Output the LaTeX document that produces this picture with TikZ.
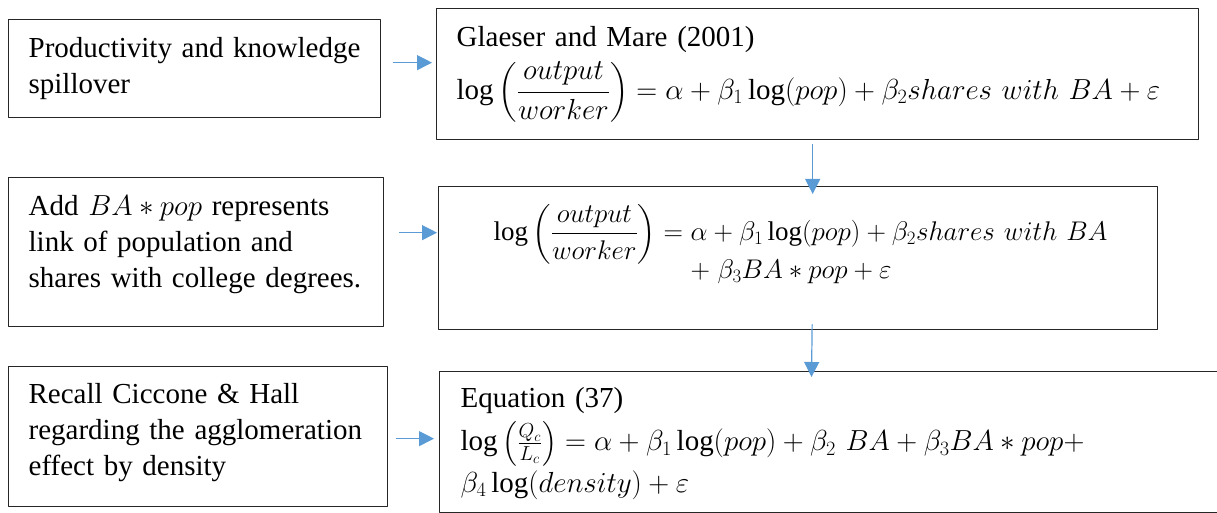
\RequirePackage{fix-cm}
\documentclass[tikz,border=0pt]{standalone}
\usepackage{amsmath}
\usepackage{fontspec}
\setmainfont{Liberation Serif}
\usetikzlibrary{arrows.meta}
\definecolor{boxline}{HTML}{262626}
\definecolor{arrowblue}{HTML}{5B9BD5}

\begin{document}
\begin{tikzpicture}[
    x=1pt, y=-1pt,
    line join=round,
    box/.style={draw=boxline, line width=1.3pt, rectangle, anchor=north west,
        inner xsep=20pt, inner ysep=0pt, align=left,
        font=\fontsize{29}{36}\selectfont},
    flow/.style={draw=arrowblue, line width=1.2pt, -{Triangle[length=15pt, width=15pt]}}
]
    \clip (0,0) rectangle (1217,513);

    % Left column: motivation boxes
    \node[box, minimum width=372pt, text width=332pt, text height=38pt, text depth=60pt] (spill) at (8,19)
        {Productivity and knowledge\\spillover};
    \node[box, minimum width=375pt, text width=335pt, text height=38pt, text depth=111pt] (link) at (8,177)
        {Add $BA \ast pop$ represents\\link of population and\\shares with college degrees.};
    \node[box, minimum width=379pt, text width=339pt, text height=37pt, text depth=103pt] (recall) at (8,366)
        {Recall Ciccone \& Hall\\regarding the agglomeration\\effect by density};

    % Right column: regressions
    \node[box, minimum width=762pt, text width=722pt, text height=38pt, text depth=93pt] (glaeser) at (436,8)
        {Glaeser and Mare (2001)\\[8pt]
        $\displaystyle \log\left(\frac{output}{worker}\right) = \alpha + \beta_1 \log(pop) + \beta_2 shares\ with\ BA + \varepsilon$};
    \node[box, font=\fontsize{27}{36}\selectfont, minimum width=719pt, text width=679pt, text height=54pt, text depth=89pt] (inter) at (438,186)
        {\hspace*{35pt}$\displaystyle \log\left(\frac{output}{worker}\right) = \alpha + \beta_1 \log(pop) + \beta_2 shares\ with\ BA$\\[-23pt]
        \hspace*{35pt}$\phantom{\displaystyle \log\left(\frac{output}{worker}\right) = {}}\mathord{+}\;\beta_3 BA \ast pop + \varepsilon$};
    \node[box, inner xsep=21pt, minimum width=900pt, text width=858pt, text height=36pt, text depth=105pt] (eqn) at (439,371)
        {Equation (37)\\[7pt]
        $\log\left(\frac{Q_c}{L_c}\right) = \alpha + \beta_1 \log(pop) + \beta_2\ BA + \beta_3 BA \ast pop +$\\[4pt]
        $\beta_4 \log(density) + \varepsilon$};

    % Connectors
    \draw[flow] ([xshift=12pt, yshift=6pt]spill.east) -- ([xshift=-4pt, yshift=11.5pt]glaeser.west);
    \draw[flow] ([xshift=15pt, yshift=19.5pt]link.east) -- ([xshift=-1pt, yshift=25.5pt]inter.west);
    \draw[flow] ([xshift=8pt, yshift=-2pt]recall.east) -- ([xshift=-5pt, yshift=3.5pt]eqn.west);
    \draw[flow] ([xshift=-5pt, yshift=-4pt]glaeser.south) -- ([xshift=14.5pt, yshift=-8pt]inter.north);
    \draw[flow] ([xshift=14pt, yshift=6pt]inter.south) -- ([xshift=372.5pt, yshift=-6pt]eqn.north west);

\end{tikzpicture}
\end{document}
